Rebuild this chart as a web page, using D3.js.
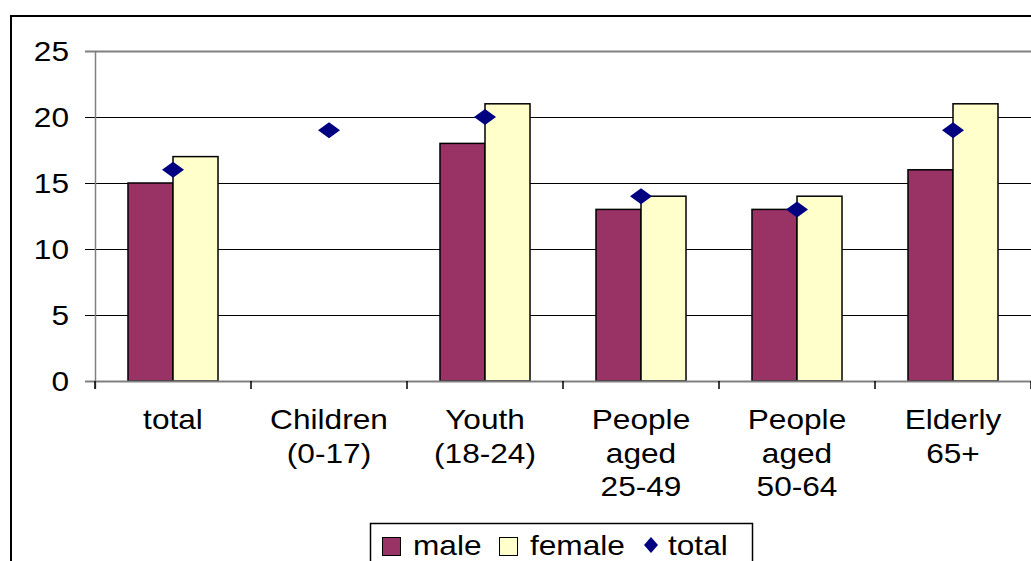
<!DOCTYPE html>
<html><head><meta charset="utf-8">
<script src="https://cdn.jsdelivr.net/npm/d3@7"></script>
<style>body{margin:0;background:#fff;}svg{display:block;font-family:"Liberation Sans",Arial,sans-serif;}</style>
</head><body>
<svg id="c" width="1031" height="561"></svg>
<script>
const categories = ["total", "Children (0-17)", "Youth (18-24)", "People aged 25-49", "People aged 50-64", "Elderly 65+"];
const categoryLines = [["total"], ["Children", "(0-17)"], ["Youth", "(18-24)"], ["People", "aged", "25-49"], ["People", "aged", "50-64"], ["Elderly", "65+"]];
const male = [15, null, 18, 13, 13, 16];
const female = [17, null, 21, 14, 14, 21];
const total = [16, 19, 20, 14, 13, 19];
const yTicks = [0, 5, 10, 15, 20, 25];
const seriesNames = ["male", "female", "total"];
const colors = {male: "#993366", female: "#FFFFCC", total: "#000080"};

const svg = d3.select("#c");
const sx = 1.13;

// outer frame
svg.append("rect").attr("x", 11).attr("y", 16).attr("width", 1100).attr("height", 700)
  .attr("fill", "none").attr("stroke", "#000").attr("stroke-width", 2);

const x0 = d3.scaleBand().domain(categories).range([95, 1031]).paddingInner(0).paddingOuter(0);
const x1 = d3.scaleBand().domain(["male", "female"]).range([0, x0.bandwidth()]).paddingInner(0).paddingOuter(0.733);
const y = d3.scaleLinear().domain([0, 25]).range([381, 51]);

// gridlines
svg.append("g").selectAll("line").data(yTicks.filter(t => t > 0)).join("line")
  .attr("x1", 85).attr("x2", 1031).attr("y1", d => Math.round(y(d)) + 0.5).attr("y2", d => Math.round(y(d)) + 0.5)
  .attr("stroke", d => d === 25 ? "#808080" : "#000").attr("stroke-width", d => d === 25 ? 2 : 1);

// y axis labels
svg.append("g").selectAll("text").data(yTicks).join("text")
  .attr("transform", d => `translate(69,${y(d) + 10}) scale(${sx},1)`)
  .attr("text-anchor", "end").attr("font-size", 28).attr("fill", "#000").text(d => d);

// bars
const data = categories.map((c, i) => ({c, male: male[i], female: female[i], total: total[i]}));
const g = svg.append("g");
data.forEach(d => {
  ["male", "female"].forEach(s => {
    if (d[s] == null) return;
    g.append("rect")
      .attr("x", x0(d.c) + x1(s))
      .attr("y", y(d[s]))
      .attr("width", x1.bandwidth())
      .attr("height", y(0) - y(d[s]))
      .attr("fill", colors[s]).attr("stroke", "#000").attr("stroke-width", 1.5);
  });
});

// axes lines
svg.append("line").attr("x1", 95.5).attr("x2", 95.5).attr("y1", 51).attr("y2", 389).attr("stroke", "#808080").attr("stroke-width", 1.5);
svg.append("line").attr("x1", 85).attr("x2", 1031).attr("y1", 381.5).attr("y2", 381.5).attr("stroke", "#808080").attr("stroke-width", 2);
svg.append("g").selectAll("line").data(d3.range(categories.length + 1)).join("line")
  .attr("x1", i => 95 + i * x0.step()).attr("x2", i => 95 + i * x0.step())
  .attr("y1", 381).attr("y2", 389).attr("stroke", "#000").attr("stroke-width", 1.5);

// diamonds
const diamond = (w, h) => `M0,${-h/2}L${w/2},0L0,${h/2}L${-w/2},0Z`;
svg.append("g").selectAll("path").data(data).join("path")
  .attr("transform", d => `translate(${x0(d.c) + x0.bandwidth()/2},${y(d.total)})`)
  .attr("d", diamond(22, 16)).attr("fill", colors.total);

// category labels
const lab = svg.append("g");
categoryLines.forEach((lines, i) => {
  const cx = x0(categories[i]) + x0.bandwidth()/2;
  lines.forEach((ln, j) => {
    lab.append("text").attr("transform", `translate(${cx},${429 + j * 33.5}) scale(${sx},1)`)
      .attr("text-anchor", "middle").attr("font-size", 28).attr("fill", "#000").text(ln);
  });
});

// legend
const lg = svg.append("g");
lg.append("rect").attr("x", 370.5).attr("y", 523.5).attr("width", 382).attr("height", 60)
  .attr("fill", "#fff").attr("stroke", "#000").attr("stroke-width", 1.5);
lg.append("rect").attr("x", 382.5).attr("y", 537.5).attr("width", 18).attr("height", 18).attr("fill", colors.male).attr("stroke", "#000");
lg.append("text").attr("transform", `translate(413,555) scale(${sx},1)`).attr("font-size", 28).text("male");
lg.append("rect").attr("x", 499.5).attr("y", 537.5).attr("width", 18).attr("height", 18).attr("fill", colors.female).attr("stroke", "#000");
lg.append("text").attr("transform", `translate(530,555) scale(${sx},1)`).attr("font-size", 28).text("female");
lg.append("path").attr("transform", "translate(651,545)").attr("d", diamond(14, 16)).attr("fill", colors.total);
lg.append("text").attr("transform", `translate(668,555) scale(${sx},1)`).attr("font-size", 28).text("total");
</script>
</body></html>
